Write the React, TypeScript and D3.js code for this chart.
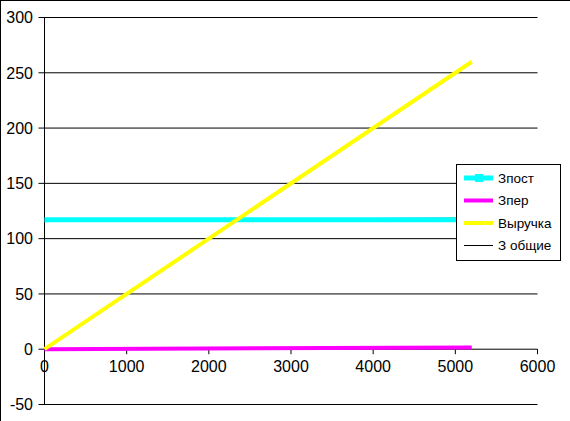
import React from "react";
import * as d3 from "d3";

const volume = [0, 5200];
const fixedCost = [117, 117];
const varCost = [0, 1.6];
const revenue = [0, 260];
const totalCost = [117, 118.6];

const seriesNames = ["Зпост", "Зпер", "Выручка", "З общие"];
const seriesColors = ["#00FFFF", "#FF00FF", "#FFFF00", "#000000"];
const seriesWidths = [5, 4, 4, 1];

const yTicks = [-50, 0, 50, 100, 150, 200, 250, 300];
const xTicks = [0, 1000, 2000, 3000, 4000, 5000, 6000];

export default function App() {
  const W = 570, H = 421;
  const x = d3.scaleLinear().domain([0, 6000]).range([44.5, 537.5]);
  const y = d3.scaleLinear().domain([-50, 300]).range([404.5, 17.5]);
  const mk = (vals: number[]) =>
    d3.line<number>().x((_, i) => x(volume[i])).y((v) => y(v))(vals) || "";
  const order = [3, 0, 1, 2];
  const data = [fixedCost, varCost, revenue, totalCost];
  const font = "Liberation Sans, Arial, sans-serif";
  return (
    <svg width={W} height={H} style={{ position: "absolute", left: 0, top: 0 }} fontFamily={font}>
      <rect x={0} y={0} width={W} height={H} fill="#fff" />
      <line x1={0.5} y1={0} x2={0.5} y2={H} stroke="#000" />
      <line x1={0} y1={0.5} x2={W} y2={0.5} stroke="#000" />
      {yTicks.map((t) => (
        <g key={"y" + t}>
          <line x1={x(0) - 6} x2={x(6000)} y1={y(t)} y2={y(t)} stroke="#000" />
          <text x={33} y={y(t)} dy="0.36em" textAnchor="end" fontSize={16}>
            {t}
          </text>
        </g>
      ))}
      <line x1={x(0)} x2={x(0)} y1={y(300)} y2={y(-50)} stroke="#000" />
      {xTicks.map((t) => (
        <g key={"x" + t}>
          <line x1={x(t)} x2={x(t)} y1={y(0)} y2={y(0) + 5} stroke="#000" />
          <text x={x(t)} y={372} textAnchor="middle" fontSize={16}>
            {t}
          </text>
        </g>
      ))}
      {order.map((i) => (
        <path
          key={"s" + i}
          d={mk(data[i])}
          fill="none"
          stroke={seriesColors[i]}
          strokeWidth={seriesWidths[i]}
        />
      ))}
      <g>
        <rect x={456.5} y={164.5} width={104} height={96} fill="#fff" stroke="#000" />
        {seriesNames.map((n, i) => {
          const cy = 178 + i * 22.5;
          return (
            <g key={"l" + i}>
              <line x1={464} x2={493} y1={cy} y2={cy} stroke={seriesColors[i]} strokeWidth={seriesWidths[i]} />
              {i === 0 && <rect x={475} y={cy - 4} width={8} height={8} fill={seriesColors[0]} />}
              <text x={498} y={cy} dy="0.36em" fontSize={13.5}>
                {n}
              </text>
            </g>
          );
        })}
      </g>
    </svg>
  );
}
